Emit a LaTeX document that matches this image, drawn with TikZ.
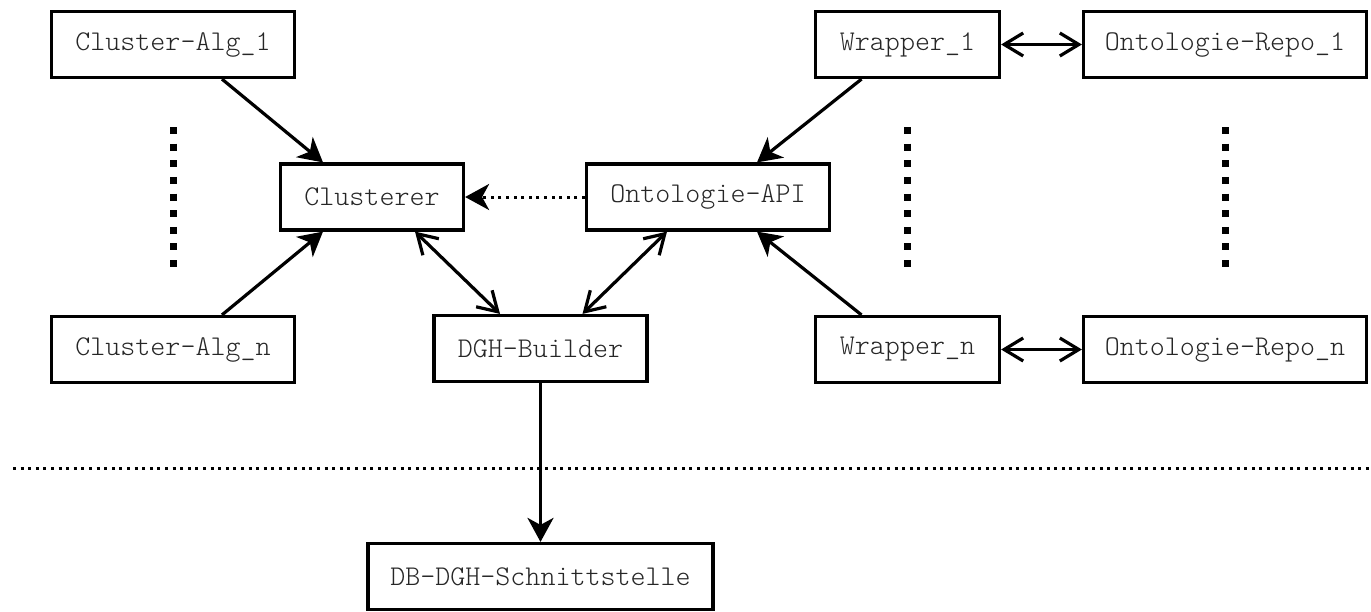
\documentclass[tikz,border=0pt]{standalone}
\usepackage{fontspec}
\newfontfamily\boxfont{Latin Modern Mono Light}
\usetikzlibrary{arrows.meta}
\begin{document}
\begin{tikzpicture}[x=1pt,y=-1pt,
  box/.style={draw, line width=3.2pt, inner sep=0pt, minimum height=66pt,
    font=\boxfont\fontsize{28.6}{32}\selectfont, text=black!85},
  conn/.style={line width=3.2pt},
  filledtip/.style={-{Stealth[length=24pt,width=26pt,inset=7pt]}},
  opentips/.style={{Straight Barb[length=19pt,width=23pt]}-{Straight Barb[length=19pt,width=23pt]}},
  smalldots/.style={line width=3pt, dash pattern=on 3pt off 4.6pt},
  bigdots/.style={line width=7pt, dash pattern=on 7pt off 9.625pt}]
\useasboundingbox (0,0) rectangle (1371,611);

\node[box, minimum width=243pt] (ca1) at (173,44.5) {Cluster-Alg\_1};
\node[box, minimum width=243pt] (can) at (173,349.5) {Cluster-Alg\_n};
\node[box, minimum width=183pt] (clu) at (372,197) {Clusterer};
\node[box, minimum width=213pt] (dgh) at (540.5,348.5) {DGH-Builder};
\node[box, minimum width=243pt] (oapi) at (708,197) {Ontologie-API};
\node[box, minimum width=184pt] (w1) at (907.5,44.5) {Wrapper\_1};
\node[box, minimum width=184pt] (wn) at (907.5,349.5) {Wrapper\_n};
\node[box, minimum width=283pt] (r1) at (1225,44.5) {Ontologie-Repo\_1};
\node[box, minimum width=283pt] (rn) at (1225,349.5) {Ontologie-Repo\_n};
\node[box, minimum width=345pt] (db) at (540.5,576.5) {DB-DGH-Schnittstelle};

% connectors
\draw[conn, filledtip] ([xshift=49]ca1.south) -- ([xshift=-49]clu.north);
\draw[conn, filledtip] ([xshift=49]can.north) -- ([xshift=-49]clu.south);
\draw[conn, opentips] ([xshift=43]clu.south) -- ([xshift=-40.5]dgh.north);
\draw[conn, opentips] ([xshift=-41]oapi.south) -- ([xshift=42]dgh.north);
\draw[conn, filledtip] ([xshift=-46]w1.south) -- ([xshift=49]oapi.north);
\draw[conn, filledtip] ([xshift=-46]wn.north) -- ([xshift=49]oapi.south);
\draw[smalldots, filledtip] (oapi.west) -- (clu.east);
\draw[conn, opentips] (w1.east) -- (r1.west);
\draw[conn, opentips] (wn.east) -- (rn.west);
\draw[conn, filledtip] (dgh.south) -- (db.north);

% separators
\draw[bigdots] ([yshift=-48]ca1.south) -- ([yshift=48]can.north);
\draw[bigdots] ([yshift=-48]w1.south) -- ([yshift=48]wn.north);
\draw[bigdots] ([yshift=-48]r1.south) -- ([yshift=48]rn.north);
\draw[smalldots] (13,468) -- (1371,468);
\end{tikzpicture}
\end{document}
